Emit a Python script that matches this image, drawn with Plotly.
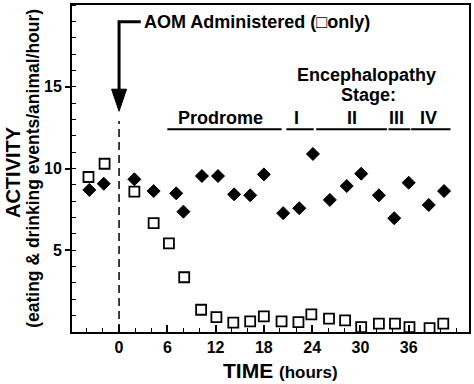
import plotly.graph_objects as go

# ---- data ----
aom_time = [-3.8, -1.8, 1.9, 4.3, 6.2, 8.1, 10.2, 12.1, 14.2, 16.3, 18.0,
            20.2, 22.3, 23.9, 26.1, 28.1, 30.1, 32.3, 34.3, 36.1, 38.6, 40.3]
aom_activity = [9.48, 10.29, 8.58, 6.66, 5.42, 3.35, 1.36, 0.91, 0.57, 0.65, 0.96,
                0.65, 0.61, 1.08, 0.82, 0.71, 0.30, 0.51, 0.51, 0.30, 0.24, 0.51]

ctrl_time = [-3.7, -1.9, 1.9, 4.3, 7.1, 8.0, 10.3, 12.3, 14.3, 16.3, 18.0,
             20.4, 22.4, 24.1, 26.2, 28.3, 30.1, 32.3, 34.2, 36.0, 38.5, 40.4]
ctrl_activity = [8.69, 9.07, 9.34, 8.62, 8.48, 7.36, 9.54, 9.54, 8.42, 8.36, 9.64,
                 7.27, 7.57, 10.89, 8.08, 8.93, 9.68, 8.36, 6.96, 9.13, 7.77, 8.62]

x_tickvals = [0, 6, 12, 18, 24, 30, 36]
y_tickvals = [5, 10, 15]

# stage bands: (label, start, end)
stage_labels = ["Prodrome", "I", "II", "III", "IV"]
stage_start = [6.0, 20.8, 24.5, 33.5, 36.3]
stage_end = [20.2, 24.2, 33.3, 36.2, 41.2]
stage_label_x = [12.6, 22.1, 28.9, 34.5, 38.5]

FONT = "Arial, 'Liberation Sans', Helvetica, sans-serif"

fig = go.Figure()

fig.add_trace(go.Scatter(
    x=ctrl_time, y=ctrl_activity, mode="markers",
    marker=dict(symbol="diamond", size=10, color="black",
                line=dict(color="black", width=1)),
    showlegend=False, cliponaxis=False))

fig.add_trace(go.Scatter(
    x=aom_time, y=aom_activity, mode="markers",
    marker=dict(symbol="square-open", size=10, color="black",
                line=dict(color="black", width=1.8)),
    showlegend=False, cliponaxis=False))

shapes = []
# dashed line at AOM administration
shapes.append(dict(type="line", xref="x", yref="y", x0=0, x1=0, y0=0, y1=12.9,
                   line=dict(color="black", width=1.5, dash="8px,5px")))
# arrow shaft (from label to x=0, then down)
shapes.append(dict(type="path", xref="x", yref="y",
                   path="M 2.7 18.97 L 0 18.97 L 0 14.8",
                   line=dict(color="black", width=3)))
# arrow head
shapes.append(dict(type="path", xref="x", yref="y",
                   path="M -0.93 14.85 L 0.93 14.85 L 0 13.5 Z",
                   fillcolor="black", line=dict(color="black", width=1)))
# stage lines
for s, e in zip(stage_start, stage_end):
    shapes.append(dict(type="line", xref="x", yref="y", x0=s, x1=e, y0=12.4, y1=12.4,
                       line=dict(color="black", width=2)))

annotations = []
ann_font = dict(family=FONT, size=18, color="black", weight="bold")
annotations.append(dict(x=2.8, y=18.97, xref="x", yref="y", text="AOM Administered (□only)",
                        showarrow=False, xanchor="left", yanchor="middle", font=ann_font))
annotations.append(dict(x=30.8, y=15.72, xref="x", yref="y", text="Encephalopathy",
                        showarrow=False, xanchor="center", yanchor="middle", font=ann_font,
                        borderpad=0))
annotations.append(dict(x=31.0, y=14.5, xref="x", yref="y", text="Stage:",
                        showarrow=False, xanchor="center", yanchor="middle", font=ann_font,
                        borderpad=0))
for lab, lx in zip(stage_labels, stage_label_x):
    annotations.append(dict(x=lx, y=13.1, xref="x", yref="y", text=lab,
                            showarrow=False, xanchor="center", yanchor="middle", font=ann_font))
# axis titles
annotations.append(dict(x=0.526, y=-0.117, xref="paper", yref="paper",
                        text="<span style='font-size:21px'>TIME</span> <span style='font-size:17px'>(hours)</span>",
                        showarrow=False, xanchor="center", yanchor="middle",
                        font=dict(family=FONT, size=21, color="black", weight="bold")))
annotations.append(dict(x=-0.148, y=0.49, xref="paper", yref="paper", text="ACTIVITY",
                        textangle=-90, showarrow=False, xanchor="center", yanchor="middle",
                        font=dict(family=FONT, size=20, color="black", weight="bold"),
                        borderpad=0))
annotations.append(dict(x=-0.1, y=0.5, xref="paper", yref="paper",
                        text="(eating & drinking events/animal/hour)",
                        textangle=-90, showarrow=False, xanchor="center", yanchor="middle",
                        font=dict(family=FONT, size=17.5, color="black", weight="bold"),
                        borderpad=0))

fig.update_layout(
    width=474, height=384,
    margin=dict(l=72, r=3, t=3, b=52),
    paper_bgcolor="white", plot_bgcolor="white",
    shapes=shapes, annotations=annotations,
    font=dict(family=FONT, color="black"),
    xaxis=dict(range=[-5.85, 43.5], tickmode="array", tickvals=x_tickvals,
               ticks="inside", ticklen=7, tickwidth=1.5, tickcolor="black",
               showline=True, linecolor="black", linewidth=2, mirror=True,
               showgrid=False, zeroline=False,
               tickfont=dict(family=FONT, size=16, color="black", weight="bold"),
               minor=dict(tickmode="linear", tick0=0, dtick=2, ticks="inside",
                          ticklen=4, tickwidth=1.2, tickcolor="black", showgrid=False)),
    yaxis=dict(range=[0, 20], tickmode="array", tickvals=y_tickvals,
               ticks="outside", ticklen=5, tickwidth=1.5, tickcolor="black",
               showline=True, linecolor="black", linewidth=2, mirror=True,
               showgrid=False, zeroline=False,
               tickfont=dict(family=FONT, size=16, color="black", weight="bold"),
               minor=dict(tickmode="linear", tick0=0, dtick=1, ticks="inside",
                          ticklen=4, tickwidth=1.2, tickcolor="black", showgrid=False)),
)

fig.write_html("out.html",
               config={"displayModeBar": False},
               post_script="document.body.style.margin='0';document.body.style.overflow='hidden';")
